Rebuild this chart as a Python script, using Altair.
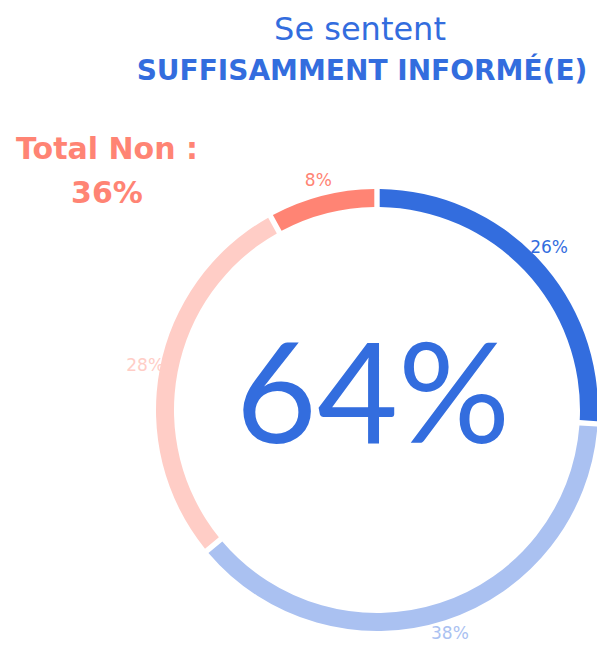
import altair as alt
import pandas as pd

categories = ["Oui tout à fait", "Oui plutôt", "Non plutôt pas", "Non pas du tout"]
values = [26, 38, 28, 8]
labels = ["26%", "38%", "28%", "8%"]
seg_colors = ["#336DDE", "#AAC1F1", "#FFCDC6", "#FF8474"]
label_colors = ["#336DDE", "#86A4EA", "#FFAEA3", "#FF8474"]
title_line1 = "Se sentent"
title_line2 = "SUFFISAMMENT INFORMÉ(E)"
total_non_label = "Total Non :"
total_non_value = "36%"
total_oui_value = "64%"

df = pd.DataFrame({"cat": categories, "val": values, "lab": labels, "ord": list(range(len(values)))})

CX, CY = 369, 402
FONT = "Lato"
WIDE = "DejaVu Sans"

base = alt.Chart(df).encode(
    theta=alt.Theta("val:Q", stack=True),
    order=alt.Order("ord:Q", sort="ascending"),
)

ring = base.mark_arc(outerRadius=221, innerRadius=203, padAngle=0.018).encode(
    x=alt.value(CX), y=alt.value(CY),
    color=alt.Color("cat:N", scale=alt.Scale(domain=categories, range=seg_colors), legend=None),
)

lbl = base.mark_text(radius=236, fontSize=17, font=WIDE).encode(
    x=alt.value(CX), y=alt.value(CY),
    text="lab:N",
    color=alt.Color("cat:N", scale=alt.Scale(domain=categories, range=label_colors), legend=None),
)

def txt(s, x, y, size, color, weight="normal", font=FONT):
    return alt.Chart(pd.DataFrame({"t": [s]})).mark_text(
        fontSize=size, font=font, fontWeight=weight, color=color, align="center", baseline="middle"
    ).encode(x=alt.value(x), y=alt.value(y), text="t:N")

chart = alt.layer(
    ring, lbl,
    txt(title_line1, 352, 22, 32, "#336DDE", "normal", WIDE),
    txt(title_line2, 354, 64, 28, "#336DDE", "bold", WIDE),
    txt(total_non_label, 99, 142, 30, "#FF8474", "bold", WIDE),
    txt(total_non_value, 99, 186, 30, "#FF8474", "bold", WIDE),
    txt(total_oui_value, 365, 393, 140, "#336DDE", "normal"),
).properties(
    width=589, height=634, padding=0, autosize=alt.AutoSizeParams(type="none")
).configure_view(stroke=None)

chart.save("out.html", embed_options={"renderer": "svg", "actions": False})
